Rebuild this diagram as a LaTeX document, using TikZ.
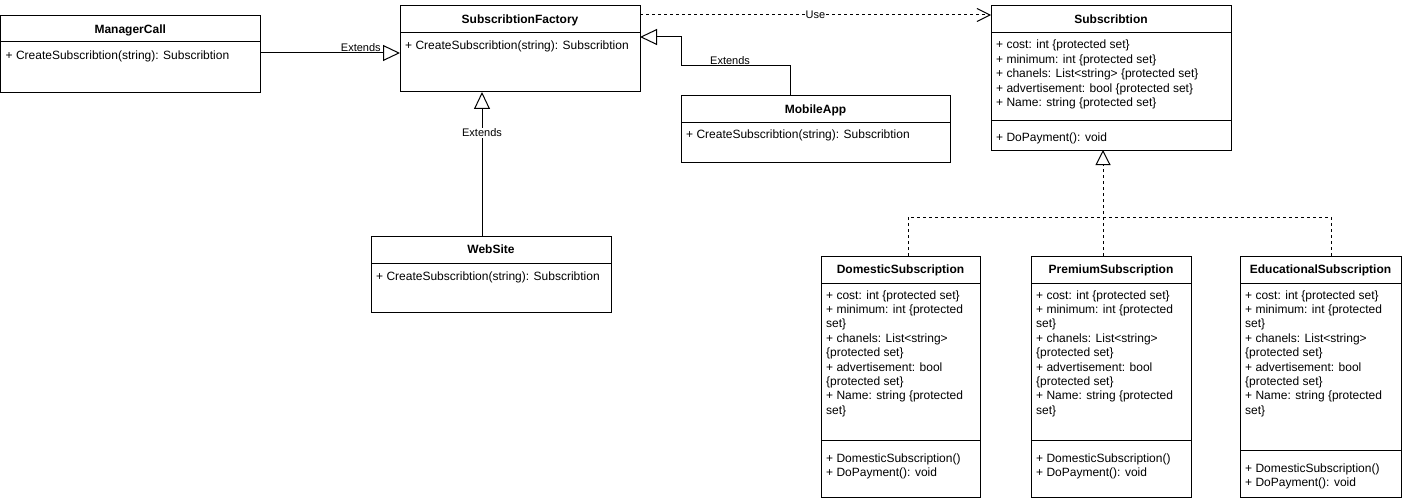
\documentclass[tikz,border=0pt]{standalone}
\usepackage{fontspec}
\setmainfont{Liberation Sans}
\usetikzlibrary{arrows.meta,calc}
\tikzset{
  box/.style={draw, line width=1pt, rectangle, anchor=north west, inner sep=0pt, outer sep=0pt},
  ttl/.style={font=\bfseries\fontsize{12}{14}\selectfont, anchor=base, inner sep=0pt},
  mem/.style={font=\fontsize{12}{14}\selectfont, anchor=base west, inner sep=0pt},
  lbl/.style={font=\fontsize{11}{13}\selectfont, inner sep=0.5pt},
  sepline/.style={line width=1pt},
  ext/.style={line width=1pt, -{Triangle[open,length=17pt,width=16pt]}},
  dashline/.style={line width=1pt, dash pattern=on 3pt off 3pt},
  real/.style={dashline, -{Triangle[open,length=15pt,width=15pt]}},
  usearrow/.style={dashline, -{Straight Barb[length=13pt,width=13pt]}},
}
\newcommand\umlmembers[4]{%
  \foreach \t [count=\i] in {#4} {%
    \node[mem] (#3-\i) at ($(#1.north west)+(5,{-#2-14.4*(\i-1)})$) {\t};}}
\newcommand\umlhead[3]{% box, title, header height
  \node[ttl] (#1-title) at ($(#1.north)+(0,-17.5)$) {#2};
  \draw[sepline] ($(#1.north west)+(0,-#3)$) -- ($(#1.north east)+(0,-#3)$);}
\newcommand\umldiv[2]{%
  \draw[sepline] ($(#1.north west)+(0,-#2)$) -- ($(#1.north east)+(0,-#2)$);}
\begin{document}
\begin{tikzpicture}[x=1pt,y=1pt]
\useasboundingbox (0,0) rectangle (1402,-500);

% boxes
\node[box, minimum width=259.5pt, minimum height=77pt] (mc) at (0.5,-16) {};
\node[box, minimum width=240pt, minimum height=86pt] (sf) at (400,-6) {};
\node[box, minimum width=240pt, minimum height=144pt] (sub) at (991,-6) {};
\node[box, minimum width=269pt, minimum height=66pt] (ma) at (681,-96) {};
\node[box, minimum width=240pt, minimum height=76pt] (ws) at (371,-236) {};
\node[box, minimum width=159pt, minimum height=241pt] (dom) at (821,-256) {};
\node[box, minimum width=160pt, minimum height=241pt] (prem) at (1031,-256) {};
\node[box, minimum width=161pt, minimum height=241pt] (edu) at (1240,-256) {};

% ManagerCall
\node[ttl] (mc-title) at ($(mc.north)+(0,-17.3)$) {ManagerCall};
\draw[sepline] ($(mc.north west)+(0,-26)$) -- ($(mc.north east)+(0,-26)$);
\umlmembers{mc}{44}{mcm}{{+ CreateSubscribtion(string): Subscribtion}}

% SubscribtionFactory
\umlhead{sf}{SubscribtionFactory}{27}
\umlmembers{sf}{44}{sfm}{{+ CreateSubscribtion(string): Subscribtion}}

% Subscribtion
\umlhead{sub}{Subscribtion}{27}
\umlmembers{sub}{43}{suba}{{+ cost: int \{protected set\}},{+ minimum: int \{protected set\}},{+ chanels: List<string> \{protected set\}},{+ advertisement: bool \{protected set\}},{+ Name: string \{protected set\}}}
\umldiv{sub}{115}
\umlmembers{sub}{136}{subm}{{+ DoPayment(): void}}

% MobileApp
\umlhead{ma}{MobileApp}{27}
\umlmembers{ma}{43}{mam}{{+ CreateSubscribtion(string): Subscribtion}}

% WebSite
\umlhead{ws}{WebSite}{27}
\umlmembers{ws}{44}{wsm}{{+ CreateSubscribtion(string): Subscribtion}}

% DomesticSubscription
\umlhead{dom}{DomesticSubscription}{27}
\umlmembers{dom}{43}{doma}{{+ cost: int \{protected set\}},{+ minimum: int \{protected},{set\}},{+ chanels: List<string>},{\{protected set\}},{+ advertisement: bool},{\{protected set\}},{+ Name: string \{protected},{set\}}}
\umldiv{dom}{184}
\umlmembers{dom}{206}{domm}{{+ DomesticSubscription()},{+ DoPayment(): void}}

% PremiumSubscription
\umlhead{prem}{PremiumSubscription}{27}
\umlmembers{prem}{43}{prema}{{+ cost: int \{protected set\}},{+ minimum: int \{protected},{set\}},{+ chanels: List<string>},{\{protected set\}},{+ advertisement: bool},{\{protected set\}},{+ Name: string \{protected},{set\}}}
\umldiv{prem}{184}
\umlmembers{prem}{206}{premm}{{+ DomesticSubscription()},{+ DoPayment(): void}}

% EducationalSubscription
\umlhead{edu}{EducationalSubscription}{27}
\umlmembers{edu}{43}{edua}{{+ cost: int \{protected set\}},{+ minimum: int \{protected},{set\}},{+ chanels: List<string>},{\{protected set\}},{+ advertisement: bool},{\{protected set\}},{+ Name: string \{protected},{set\}}}
\umldiv{edu}{194}
\umlmembers{edu}{216}{edum}{{+ DomesticSubscription()},{+ DoPayment(): void}}

% connectors
\draw[ext] ($(mc.north east)+(0,-37)$) -- node[lbl,above,pos=0.72] (l1) {Extends} ($(sf.north west)+(0,-47)$);
\draw[ext] ($(ws.north west)+(111,0)$) -- node[lbl,fill=white,inner sep=1pt,pos=0.715] (l2) {Extends} ($(sf.south west)+(82,0)$);
\coordinate (m1) at (790,-66);
\coordinate (m2) at (681,-66);
\coordinate (m3) at (681,-37);
\draw[ext] (ma.north -| m1) -- (m1) -- node[lbl,above,pos=0.55] (l3) {Extends} (m2) -- (m3) -- (m3 -| sf.east);
\draw[usearrow] ($(sf.north east)+(0,-9)$) -- node[lbl,fill=white,inner sep=1pt] (l4) {Use} ($(sub.north west)+(0,-9)$);
\coordinate (j) at (1103,-217);
\draw[real] ($(prem.north west)+(72,0)$) -- ($(sub.south west)+(112,0)$);
\draw[dashline] ($(dom.north west)+(87,0)$) |- (j) -| ($(edu.north west)+(91,0)$);
\end{tikzpicture}
\end{document}
